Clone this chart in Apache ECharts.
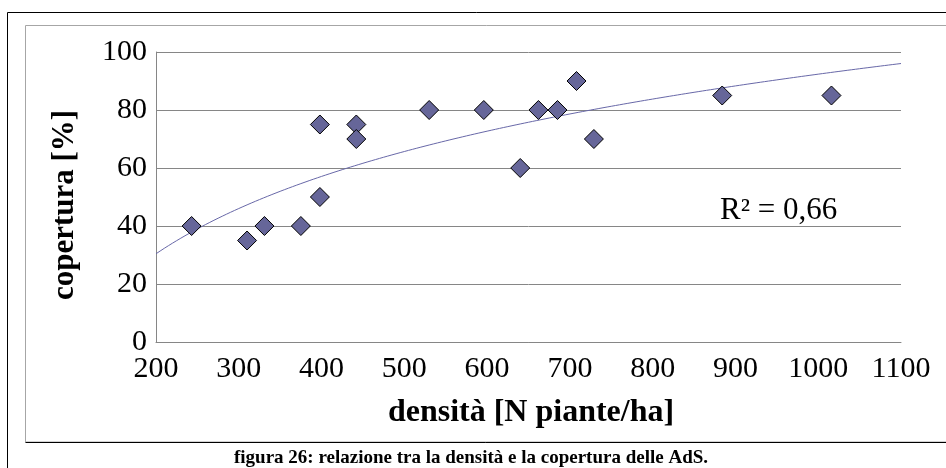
<!DOCTYPE html>
<html>
<head>
<meta charset="utf-8">
<script src="https://cdn.jsdelivr.net/npm/echarts@6/dist/echarts.min.js"></script>
<style>
  html, body { margin: 0; padding: 0; background: #fff; }
  #chart { width: 946px; height: 468px; }
</style>
</head>
<body>
<div id="chart"></div>
<script>
// Densità delle piante (N piante/ha) e copertura (%) per ogni area di saggio
const densita = [243, 310, 331, 375, 398, 398, 442, 442, 530, 596, 640, 662, 685, 708, 729, 884, 1016];
const copertura = [40, 35, 40, 40, 75, 50, 75, 70, 80, 80, 60, 80, 80, 90, 70, 85, 85];

const xTicks = { min: 200, max: 1100, step: 100 };
const yTicks = { min: 0, max: 100, step: 20 };

const r2Label = 'R² = 0,66';
const xTitle = 'densità [N piante/ha]';
const yTitle = 'copertura [%]';
const caption = 'figura 26: relazione tra la densità e la copertura delle AdS.';

// Logarithmic trend line y = a ln(x) + b, least squares on the points above
function logFit(xs, ys) {
  const n = xs.length;
  const lx = xs.map(Math.log);
  const mx = lx.reduce((s, v) => s + v, 0) / n;
  const my = ys.reduce((s, v) => s + v, 0) / n;
  let sxy = 0, sxx = 0;
  for (let i = 0; i < n; i++) {
    sxy += (lx[i] - mx) * (ys[i] - my);
    sxx += (lx[i] - mx) * (lx[i] - mx);
  }
  const a = sxy / sxx;
  return { a: a, b: my - a * mx };
}
const fit = logFit(densita, copertura);
const trend = [];
for (let x = xTicks.min; x <= xTicks.max; x += 5) {
  trend.push([x, fit.a * Math.log(x) + fit.b]);
}

const serif = "'Liberation Serif', 'Times New Roman', serif";
const chart = echarts.init(document.getElementById('chart'), null, { renderer: 'canvas' });

chart.setOption({
  backgroundColor: '#ffffff',
  animation: false,
  grid: { left: 156, right: 45, top: 52, bottom: 126, containLabel: false },
  xAxis: {
    type: 'value',
    min: xTicks.min, max: xTicks.max, interval: xTicks.step,
    axisLine: { show: true, onZero: false, lineStyle: { color: '#868686', width: 1 } },
    axisTick: { show: false },
    splitLine: { show: false },
    axisLabel: { color: '#000', fontFamily: serif, fontSize: 30, margin: 12, formatter: v => String(v) }
  },
  yAxis: {
    type: 'value',
    min: yTicks.min, max: yTicks.max, interval: yTicks.step,
    axisLine: { show: true, lineStyle: { color: '#868686', width: 1 } },
    axisTick: { show: false },
    splitLine: { show: true, lineStyle: { color: '#868686', width: 1 } },
    axisLabel: { color: '#000', fontFamily: serif, fontSize: 30, margin: 9, formatter: v => String(v) }
  },
  series: [
    {
      type: 'line',
      data: trend,
      showSymbol: false,
      smooth: false,
      lineStyle: { color: '#6868a8', width: 1 },
      z: 2
    },
    {
      type: 'scatter',
      data: densita.map((x, i) => [x, copertura[i]]),
      symbol: 'diamond',
      symbolSize: 19,
      itemStyle: { color: '#666699', borderColor: '#000000', borderWidth: 1, opacity: 1 },
      z: 3
    }
  ],
  graphic: [
    // outer frame
    { type: 'line', shape: { x1: 7.5, y1: 12.5, x2: 7.5, y2: 468 }, style: { stroke: '#000', lineWidth: 1 } },
    { type: 'line', shape: { x1: 7.5, y1: 12.5, x2: 946, y2: 12.5 }, style: { stroke: '#000', lineWidth: 1 } },
    // chart area border
    { type: 'rect', shape: { x: 25.5, y: 25.5, width: 940, height: 416.5 }, style: { fill: 'none', stroke: '#a6a6a6', lineWidth: 1 } },
    { type: 'line', shape: { x1: 25.5, y1: 442.5, x2: 946, y2: 442.5 }, style: { stroke: '#000', lineWidth: 1 } },
    {
      type: 'text', x: 65, y: 205, rotation: Math.PI / 2,
      style: { text: yTitle, fill: '#000', font: 'bold 31px ' + serif, align: 'center', verticalAlign: 'middle' }
    },
    {
      type: 'text', x: 531, y: 413,
      style: { text: xTitle, fill: '#000', font: 'bold 32px ' + serif, align: 'center', verticalAlign: 'middle' }
    },
    {
      type: 'text', x: 720, y: 211,
      style: { text: r2Label, fill: '#000', font: '31px ' + serif, align: 'left', verticalAlign: 'middle' }
    },
    {
      type: 'text', x: 471, y: 458,
      style: { text: caption, fill: '#000', font: 'bold 19px ' + serif, align: 'center', verticalAlign: 'middle' }
    }
  ]
});
</script>
</body>
</html>
